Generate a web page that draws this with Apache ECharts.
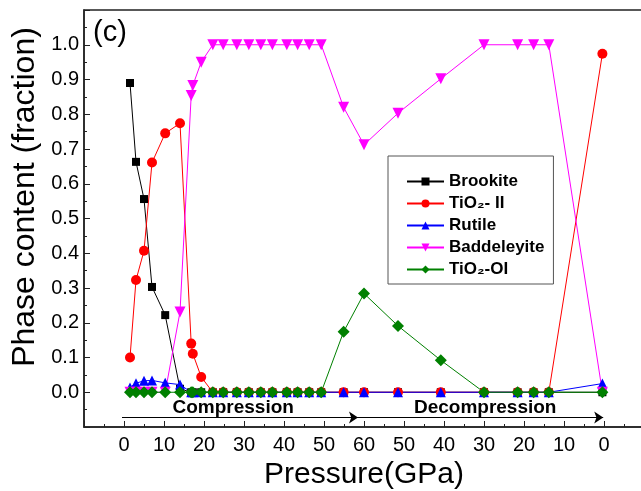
<!DOCTYPE html>
<html>
<head>
<meta charset="utf-8">
<script src="https://cdn.jsdelivr.net/npm/echarts@6/dist/echarts.min.js"></script>
<style>
  html, body { margin: 0; padding: 0; background: #fff; }
  #chart { width: 641px; height: 491px; }
</style>
</head>
<body>
<div id="chart"></div>
<script>
// pressure points (GPa), compression run then decompression run
var compPressure = [1.5, 3, 5, 7, 10.3, 14, 16.8, 17.2, 19.3, 22.2, 24.8, 28.2, 31.2, 34.2, 37.1, 40.7, 43.4, 46.3, 49.3, 54.9, 60];
var decompPressure = [51.5, 40.8, 30, 21.6, 17.6, 13.8, 0.4];

var brookite = [0.89, 0.663, 0.556, 0.303, 0.222, 0.01, 0, 0, 0, 0, 0, 0, 0, 0, 0, 0, 0, 0, 0, 0, 0,
                0, 0, 0, 0, 0, 0, 0];
var tio2II = [0.1, 0.323, 0.407, 0.661, 0.745, 0.774, 0.14, 0.111, 0.044, 0, 0, 0, 0, 0, 0, 0, 0, 0, 0, 0, 0,
              0, 0, 0, 0, 0, 0, 0.974];
var rutile = [0.014, 0.026, 0.033, 0.034, 0.027, 0.022, 0, 0, 0, 0, 0, 0, 0, 0, 0, 0, 0, 0, 0, 0, 0,
              0, 0, 0, 0, 0, 0, 0.025];
var baddeleyite = [0, 0, 0, 0, 0, 0.231, 0.854, 0.883, 0.95, 1, 1, 1, 1, 1, 1, 1, 1, 1, 1, 0.82, 0.712,
                   0.803, 0.902, 1, 1, 1, 1, 0];
var tio2OI = [0, 0, 0, 0, 0, 0, 0, 0, 0, 0, 0, 0, 0, 0, 0, 0, 0, 0, 0, 0.174, 0.284,
              0.191, 0.092, 0, 0, 0, 0, 0];

var yTicks = [0, 0.1, 0.2, 0.3, 0.4, 0.5, 0.6, 0.7, 0.8, 0.9, 1.0];

// decompression is drawn running back from 60 to 0
var turnPoint = 60;
var positions = compPressure.concat(decompPressure.map(function (p) { return 2 * turnPoint - p; }));

function pairs(values) {
  return values.map(function (v, i) { return [positions[i], v]; });
}

var FONT = "'Liberation Sans', Arial, sans-serif";
var arrowY = -0.073;
var textY = -0.045;

var chart = echarts.init(document.getElementById("chart"));

function makeSeries(name, values, color, symbol, size, rotate) {
  return {
    name: name,
    type: "line",
    data: pairs(values),
    symbol: symbol,
    symbolSize: size,
    symbolRotate: rotate || 0,
    showAllSymbol: true,
    itemStyle: { color: color },
    lineStyle: { color: color, width: 1 },
    animation: false
  };
}

var series = [
  makeSeries("Brookite", brookite, "#000000", "rect", 8),
  makeSeries("TiO₂- II", tio2II, "#ff0000", "circle", 10),
  makeSeries("Rutile", rutile, "#0000ff", "triangle", 10),
  makeSeries("Baddeleyite", baddeleyite, "#ff00ff", "triangle", 11, 180),
  makeSeries("TiO₂-OI", tio2OI, "#008000", "diamond", 12)
];

series[0].markLine = {
  silent: true,
  symbol: ["none", "arrow"],
  symbolSize: 9,
  label: { show: false },
  lineStyle: { color: "#000", width: 1, type: "solid" },
  data: [
    [{ coord: [-0.5, arrowY] }, { coord: [58.5, arrowY] }],
    [{ coord: [58.5, arrowY] }, { coord: [119.8, arrowY] }]
  ]
};
series[0].markPoint = {
  silent: true,
  symbol: "circle",
  symbolSize: 0,
  label: {
    show: true,
    position: "inside",
    formatter: "{b}",
    color: "#000",
    fontFamily: FONT,
    fontWeight: "bold",
    fontSize: 19
  },
  data: [
    { name: "Compression", coord: [27.3, textY] },
    { name: "Decompression", coord: [90.3, textY] }
  ]
};

var option = {
  backgroundColor: "#fff",
  animation: false,
  grid: {
    left: 84,
    top: 10,
    width: 560,
    bottom: 64,
    outerBoundsMode: "none",
    containLabel: false,
    show: true,
    borderColor: "#222",
    borderWidth: 1.5
  },
  legend: {
    left: 388,
    top: 156,
    orient: "vertical",
    padding: [17, 9, 6, 18],
    itemWidth: 37,
    itemHeight: 10,
    itemGap: 5,
    backgroundColor: "#fff",
    borderColor: "#555",
    borderWidth: 1,
    textStyle: { fontFamily: FONT, fontWeight: "bold", fontSize: 17, color: "#000" },
    data: series.map(function (s) { return s.name; })
  },
  xAxis: {
    type: "value",
    min: -10,
    max: 130,
    interval: 10,
    name: "Pressure(GPa)",
    nameLocation: "middle",
    nameGap: 27,
    nameTextStyle: { fontFamily: FONT, fontSize: 30, color: "#000" },
    axisLine: { onZero: false, lineStyle: { color: "#222", width: 1.5 } },
    axisTick: { inside: true, length: 6, lineStyle: { color: "#222" } },
    minorTick: { show: true, splitNumber: 2, length: 3, lineStyle: { color: "#222" } },
    splitLine: { show: false },
    axisLabel: {
      margin: 8,
      fontFamily: FONT,
      fontSize: 20,
      color: "#000",
      formatter: function (v) {
        if (v < 0 || v > 2 * turnPoint) return "";
        return String(v <= turnPoint ? v : 2 * turnPoint - v);
      }
    }
  },
  yAxis: {
    type: "value",
    min: -0.1,
    max: 1.1,
    interval: 0.1,
    axisLine: { show: true, onZero: false, lineStyle: { color: "#222", width: 1.5 } },
    axisTick: { inside: true, length: 6, lineStyle: { color: "#222" } },
    minorTick: { show: true, splitNumber: 2, length: 3, lineStyle: { color: "#222" } },
    splitLine: { show: false },
    axisLabel: {
      margin: 5,
      fontFamily: FONT,
      fontSize: 20,
      color: "#000",
      formatter: function (v) {
        var r = Math.round(v * 10) / 10;
        return yTicks.indexOf(r) >= 0 ? r.toFixed(1) : "";
      }
    }
  },
  graphic: [
    {
      type: "text",
      left: 93,
      top: 18,
      style: { text: "(c)", font: "29px " + FONT, fill: "#000" }
    },
    {
      type: "text",
      x: 25,
      y: 197,
      rotation: Math.PI / 2,
      style: {
        text: "Phase content (fraction)",
        font: "32px " + FONT,
        fill: "#000",
        align: "center",
        verticalAlign: "middle"
      }
    }
  ],
  series: series
};

chart.setOption(option);
</script>
</body>
</html>
